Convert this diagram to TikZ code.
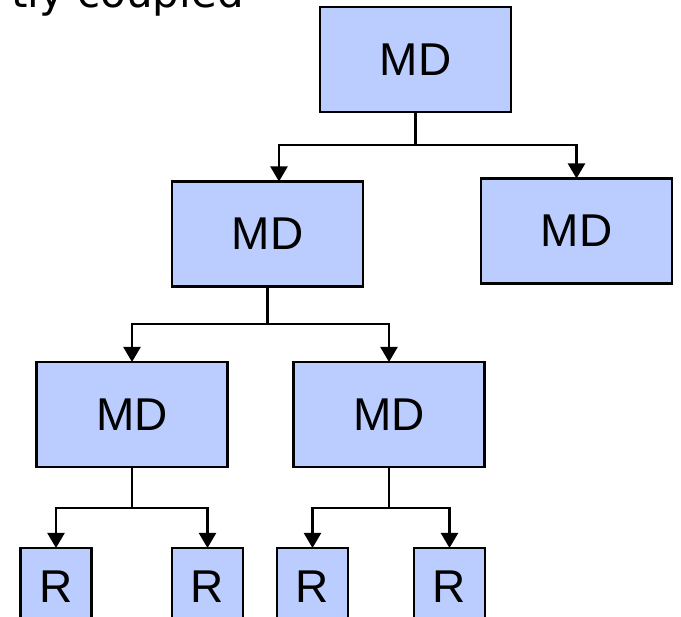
\documentclass[tikz,border=0pt]{standalone}
\usepackage{fontspec}
\setmainfont{Liberation Sans}
\newfontfamily\titlefont{DejaVu Sans}
\usepackage{tikz}
\usetikzlibrary{arrows.meta,positioning}

\definecolor{boxblue}{RGB}{187,205,255}

\begin{document}
\begin{tikzpicture}[x=1pt,y=-1pt,
        box/.style={draw,fill=boxblue,line width=2.2pt,minimum width=191pt,minimum height=105pt,
            inner sep=0pt,outer sep=0pt,font=\fontsize{46}{50}\selectfont},
        rbox/.style={box,minimum width=71pt,minimum height=77pt},
        link/.style={line width=2.2pt},
        arr/.style={link,-{Triangle[width=17pt,length=15pt]}}]
        \clip (0,0) rectangle (681,617);
        \useasboundingbox (0,0) rectangle (681,617);

        \node[anchor=base east,font=\titlefont\fontsize{42}{46}\selectfont,inner sep=0pt] at (244,8) (title){tly coupled};

        \node[box] at (415.5,59.5) (md0){MD};
        \node[box] at (267.5,234) (md1){MD};
        \node[box] at (576.5,231) (md2){MD};
        \node[box] at (132,414.5) (md3){MD};
        \node[box] at (389,414.5) (md4){MD};

        \node[rbox] at (56,586.5) (r1){R};
        \node[rbox] at (207.5,586.5) (r2){R};
        \node[rbox] at (312.5,586.5) (r3){R};
        \node[rbox] at (449.5,586.5) (r4){R};

        % branch points under each parent
        \coordinate (b0) at (md0.south |- 0,145);
        \coordinate (b1) at (md1.south |- 0,324);
        \coordinate (b3) at (md3.south |- 0,508);
        \coordinate (b4) at (md4.south |- 0,508);

        \draw[link] (md0.south) -- (b0);
        \draw[arr] (b0) -| ([xshift=11.5pt]md1.north);
        \draw[arr] (b0) -| (md2.north);

        \draw[link] (md1.south) -- (b1);
        \draw[arr] (b1) -| (md3.north);
        \draw[arr] (b1) -| (md4.north);

        \draw[link] (md3.south) -- (b3);
        \draw[arr] (b3) -| (r1.north);
        \draw[arr] (b3) -| (r2.north);

        \draw[link] (md4.south) -- (b4);
        \draw[arr] (b4) -| (r3.north);
        \draw[arr] (b4) -| (r4.north);
    \end{tikzpicture}
\end{document}
